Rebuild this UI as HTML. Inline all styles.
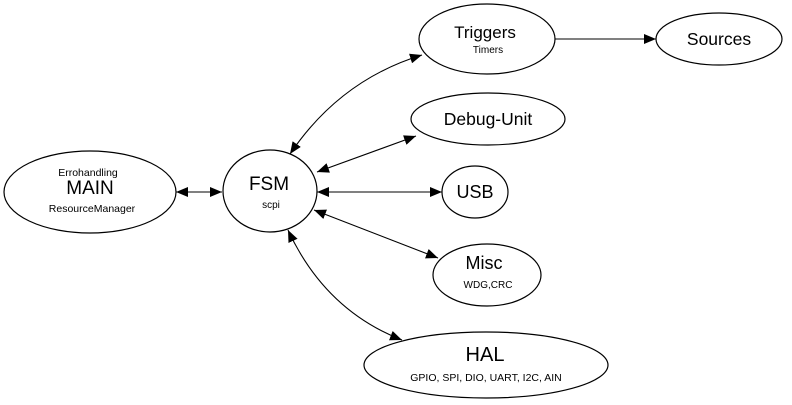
<!DOCTYPE html>
<html><head><style>body{margin:0;background:#fff}svg{display:block}text{font-family:"Liberation Sans",Arial,sans-serif;fill:#000}</style></head>
<body>
<svg width="792" height="405" viewBox="0 0 792 405" xmlns="http://www.w3.org/2000/svg">
<defs>
<marker id="a" viewBox="0 0 12 10" refX="12" refY="5" markerWidth="12" markerHeight="10" markerUnits="userSpaceOnUse" orient="auto-start-reverse"><path d="M0,0 L12,5 L0,10 z" fill="#000"/></marker>
</defs>
<g fill="none" stroke="#000" stroke-width="1.2">
<ellipse cx="90" cy="192" rx="86" ry="41"/>
<ellipse cx="270" cy="191" rx="47" ry="41"/>
<ellipse cx="487" cy="39" rx="68" ry="35"/>
<ellipse cx="719" cy="39" rx="63" ry="26"/>
<ellipse cx="488" cy="119" rx="77" ry="26"/>
<ellipse cx="475" cy="192" rx="33" ry="26"/>
<ellipse cx="487" cy="275" rx="54" ry="31"/>
<ellipse cx="486" cy="365" rx="122" ry="33"/>
</g>
<g fill="none" stroke="#000" stroke-width="1.1" marker-start="url(#a)" marker-end="url(#a)">
<line x1="176" y1="192" x2="222" y2="192"/>
<path d="M290,154 Q340,80 422,55"/>
<line x1="317" y1="172" x2="416" y2="136"/>
<line x1="317" y1="192" x2="442" y2="192"/>
<line x1="314" y1="210" x2="438" y2="258"/>
<path d="M288,230 Q325,310 402,340"/>
</g>
<line x1="555" y1="39" x2="656" y2="39" stroke="#000" stroke-width="1.1" marker-end="url(#a)"/>
<text x="88" y="176" font-size="10.5" text-anchor="middle">Errohandling</text>
<text x="90" y="194" font-size="19" text-anchor="middle">MAIN</text>
<text x="92" y="212" font-size="10.5" text-anchor="middle">ResourceManager</text>
<text x="269" y="190" font-size="19" text-anchor="middle">FSM</text>
<text x="271" y="208" font-size="10" text-anchor="middle">scpi</text>
<text x="485" y="38" font-size="17" text-anchor="middle">Triggers</text>
<text x="488" y="53" font-size="10" text-anchor="middle">Timers</text>
<text x="719" y="45" font-size="17.5" text-anchor="middle">Sources</text>
<text x="488" y="125" font-size="17.5" text-anchor="middle">Debug-Unit</text>
<text x="475" y="198" font-size="18" text-anchor="middle">USB</text>
<text x="484" y="269" font-size="18" text-anchor="middle">Misc</text>
<text x="488" y="288" font-size="10" text-anchor="middle">WDG,CRC</text>
<text x="485" y="361" font-size="20" text-anchor="middle">HAL</text>
<text x="486" y="381" font-size="10.5" text-anchor="middle">GPIO, SPI, DIO, UART, I2C, AIN</text>
</svg>
</body></html>
